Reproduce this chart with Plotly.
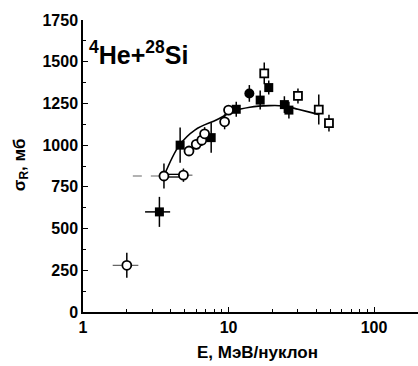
import plotly.graph_objects as go

# Open circles
oc_E = [2.0, 3.6, 4.9, 5.35, 6.0, 6.55, 6.85, 9.4, 10.0]
oc_S = [280, 815, 820, 965, 1005, 1030, 1068, 1140, 1210]
oc_err = [75, 75, 40, 30, 30, 35, 40, 45, 30]

# Filled squares
fs_E = [3.35, 4.65, 7.6, 11.3, 16.5, 18.9, 24.2, 26.0]
fs_S = [600, 1000, 1045, 1215, 1270, 1345, 1243, 1210]
fs_err = [90, 105, 90, 45, 57, 42, 50, 50]
fs_xlo = [2.67, None, None, None, None, None, None, None]
fs_xhi = [3.97, None, None, None, None, None, None, None]

# Filled circle
fc_E = [13.9]
fc_S = [1310]
fc_err = [50]

# Open squares
os_E = [17.6, 30.0, 41.7, 49.0]
os_S = [1430, 1295, 1213, 1132]
os_err = [65, 45, 90, 50]

# Fit curve
fit_E = [3.6, 4.6, 5.9, 8.3, 10.8, 14, 19, 24, 30, 36, 42]
fit_S = [815, 1000, 1092, 1152, 1203, 1227, 1237, 1235, 1215, 1198, 1183]

# Horizontal (dashed) energy-range bars for open circles
hbar_y = [280, 815, 820]
hbar_lo = [1.6, 2.2, 4.9]
hbar_hi = [2.4, 3.6, 5.9]
link_lo, link_hi, link_y = 3.6, 4.9, 817

fig = go.Figure()

fig.add_trace(go.Scatter(x=fit_E, y=fit_S, mode="lines",
                         line=dict(color="black", width=1.6, shape="spline"),
                         showlegend=False, hoverinfo="skip"))

for lo, hi, yv in zip(hbar_lo, hbar_hi, hbar_y):
    fig.add_trace(go.Scatter(x=[lo, hi], y=[yv, yv], mode="lines",
                             line=dict(color="#666666", width=1.2, dash="dash"),
                             showlegend=False, hoverinfo="skip"))
fig.add_trace(go.Scatter(x=[link_lo, link_hi], y=[link_y + 8, link_y + 8], mode="lines",
                         line=dict(color="black", width=1.3), showlegend=False, hoverinfo="skip"))
fig.add_trace(go.Scatter(x=[link_lo, link_hi], y=[link_y - 8, link_y - 8], mode="lines",
                         line=dict(color="black", width=1.3), showlegend=False, hoverinfo="skip"))

# filled squares x errors
for e, s, lo, hi in zip(fs_E, fs_S, fs_xlo, fs_xhi):
    if lo is not None:
        fig.add_trace(go.Scatter(x=[lo, hi], y=[s, s], mode="lines",
                                 line=dict(color="black", width=1.5),
                                 showlegend=False, hoverinfo="skip"))

fig.add_trace(go.Scatter(x=fs_E, y=fs_S, mode="markers",
                         marker=dict(symbol="square", size=9, color="black"),
                         error_y=dict(type="data", array=fs_err, color="black", thickness=1.5, width=0),
                         showlegend=False))
fig.add_trace(go.Scatter(x=fc_E, y=fc_S, mode="markers",
                         marker=dict(symbol="circle", size=10, color="black"),
                         error_y=dict(type="data", array=fc_err, color="black", thickness=1.5, width=0),
                         showlegend=False))
fig.add_trace(go.Scatter(x=os_E, y=os_S, mode="markers",
                         marker=dict(symbol="square", size=8, color="white",
                                     line=dict(color="black", width=1.8)),
                         error_y=dict(type="data", array=os_err, color="black", thickness=1.5, width=0),
                         showlegend=False))
fig.add_trace(go.Scatter(x=oc_E, y=oc_S, mode="markers",
                         marker=dict(symbol="circle", size=9, color="white",
                                     line=dict(color="black", width=1.8)),
                         error_y=dict(type="data", array=oc_err, color="black", thickness=1.5, width=0),
                         showlegend=False))

fnt = dict(family="Arial, Liberation Sans, sans-serif", color="black", weight="bold")

fig.update_layout(
    width=418, height=366,
    margin=dict(l=83, r=0, t=20, b=54),
    paper_bgcolor="white", plot_bgcolor="white",
    showlegend=False,
    xaxis=dict(type="log", range=[0, 2.302], tickvals=[1, 10, 100], ticktext=["1", "10", "100"],
               ticks="inside", ticklen=5, tickwidth=1.3, tickcolor="black",
               showline=True, linecolor="black", linewidth=1.5, showgrid=False, zeroline=False,
               minor=dict(ticks="inside", ticklen=3, tickcolor="black",
                          tickvals=[2, 3, 4, 5, 6, 7, 8, 9, 20, 30, 40, 50, 60, 70, 80, 90, 200], showgrid=False),
               tickfont=dict(size=16, **fnt)),
    yaxis=dict(range=[0, 1750], dtick=250, tick0=0,
               ticks="inside", ticklen=5, tickwidth=1.3, tickcolor="black",
               showline=True, linecolor="black", linewidth=1.5, showgrid=False, zeroline=False,
               minor=dict(ticks="inside", ticklen=3, tickcolor="black", dtick=125, showgrid=False),
               tickfont=dict(size=16, **fnt)),
    annotations=[
        dict(text="<sup>4</sup>He+<sup>28</sup>Si", xref="paper", yref="paper",
             x=0.012, y=0.887, xanchor="left", yanchor="middle", showarrow=False,
             font=dict(size=25, **fnt)),
        dict(text="E, МэВ/нуклон", xref="paper", yref="paper",
             x=0.52, y=-0.14, xanchor="center", yanchor="middle", showarrow=False,
             font=dict(size=17, **fnt)),
        dict(text="σ<sub>R</sub>, мб", xref="paper", yref="paper", textangle=-90,
             x=-0.185, y=0.503, xanchor="center", yanchor="middle", showarrow=False,
             font=dict(size=17, **fnt)),
    ],
)

fig.write_html("out.html")
